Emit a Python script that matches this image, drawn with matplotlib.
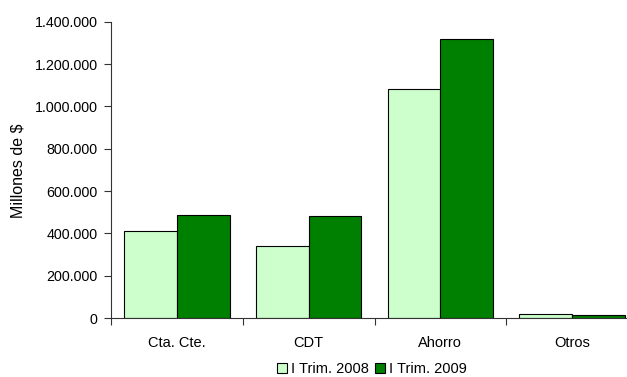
import numpy as np
import matplotlib
matplotlib.use("Agg")
import matplotlib.pyplot as plt
from matplotlib.ticker import FuncFormatter, FixedLocator

# data (millones de $)
categories = ["Cta. Cte.", "CDT", "Ahorro", "Otros"]
series_names = ["I Trim. 2008", "I Trim. 2009"]
trim_2008 = [411000, 342000, 1083000, 17000]
trim_2009 = [487000, 484000, 1320000, 15000]

plt.rcParams['font.family'] = ['Liberation Sans', 'DejaVu Sans']

fig = plt.figure(figsize=(6.27, 3.77), dpi=100)
ax = fig.add_axes([111 / 627, 59 / 377, 527 / 627, 296.3 / 377])

x = np.arange(len(categories))
w = 0.4
ax.bar(x - w / 2, trim_2008, width=w, color="#CCFFCC", edgecolor="#000000",
       linewidth=0.8, label=series_names[0])
ax.bar(x + w / 2, trim_2009, width=w, color="#008000", edgecolor="#000000",
       linewidth=0.8, label=series_names[1])

ax.set_xlim(-0.5, len(categories) - 0.5)
ax.set_ylim(0, 1400000)
ax.set_yticks(np.arange(0, 1400001, 200000))
ax.yaxis.set_major_formatter(FuncFormatter(lambda v, p: f"{int(v):,}".replace(",", ".")))

# boundary ticks, labels in the middle of each group
ax.xaxis.set_major_locator(FixedLocator(np.arange(len(categories) + 1) - 0.5))
ax.xaxis.set_minor_locator(FixedLocator(x))
ax.set_xticklabels([], minor=False)
ax.set_xticklabels(categories, minor=True)
ax.tick_params(axis="x", which="major", length=5, width=0.8, direction="out", color="#333333")
ax.tick_params(axis="x", which="minor", length=0, pad=13, labelsize=10.5)
ax.tick_params(axis="y", length=5, width=0.8, direction="out", pad=4.5, labelsize=10.3, color="#333333")

for side in ["top", "right"]:
    ax.spines[side].set_visible(False)
for side in ["left", "bottom"]:
    ax.spines[side].set_color("#333333")
    ax.spines[side].set_linewidth(0.8)

fig.text(18 / 627, 1 - 171 / 377, "Millones de $", rotation=90, ha="center", va="center", fontsize=11.5)

fig.legend(loc="center", bbox_to_anchor=(372 / 627, 1 - 369 / 377), ncol=2, frameon=False,
           fontsize=10.5, handlelength=0.7, handleheight=0.7, handletextpad=0.3,
           columnspacing=0.4, borderpad=0)

fig.savefig("out.png", dpi=100)
